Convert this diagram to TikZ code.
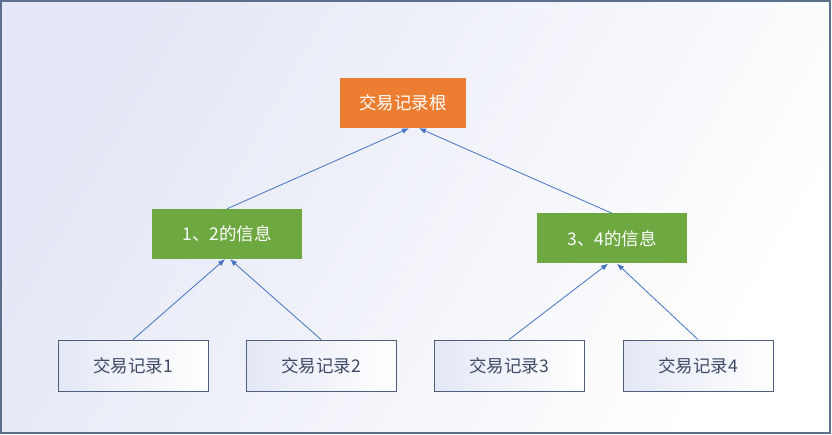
\documentclass[tikz,border=0pt]{standalone}
\usepackage{fontspec}
\usepackage{tikz}
\usepackage{xcolor}
\usetikzlibrary{arrows.meta}
\newfontfamily\cjk{Noto Sans CJK SC}
\definecolor{bgtop}{HTML}{E4E7F5}
\definecolor{frameline}{HTML}{5B6F8E}
\definecolor{rootfill}{HTML}{ED7D31}
\definecolor{midfill}{HTML}{6DA841}
\definecolor{leafline}{HTML}{4E5D7C}
\definecolor{leaftext}{HTML}{3E4A66}
\definecolor{leafleft}{HTML}{E4E8F5}
\definecolor{link}{HTML}{4472C4}
\tikzset{
  box/.style={rectangle, minimum width=150pt, minimum height=50pt, inner sep=0pt,
    font=\cjk\fontsize{17.5}{19}\selectfont},
  rootbox/.style={box, fill=rootfill, text=white, minimum width=126pt},
  midbox/.style={box, fill=midfill, text=white},
  leafbox/.style={box, draw=leafline, line width=0.9pt, left color=leafleft, right color=white, text=leaftext, minimum height=51pt},
  link/.style={draw=link, line width=0.8pt, -{Latex[length=7pt,width=5.5pt]}}
}

\begin{document}
\begin{tikzpicture}[x=1pt,y=-1pt]
\useasboundingbox (0,0) rectangle (832,435);
\shade[top color=bgtop, bottom color=white, shading angle=60] (1,1) rectangle (830,433);
\draw[frameline, line width=1.1pt] (1,1) rectangle (830,433);

\node[rootbox] (root) at (403,103) {交易记录根};
\node[midbox] (m12) at (227,234) {1、2的信息};
\node[midbox] (m34) at (612,238.5) {3、4的信息};
\node[leafbox] (t1) at (133,365.5) {交易记录1};
\node[leafbox] (t2) at (321,365.5) {交易记录2};
\node[leafbox] (t3) at (509,365.5) {交易记录3};
\node[leafbox] (t4) at (698,365.5) {交易记录4};

\draw[link] (m12.north) -- ([xshift=6pt]root.south);
\draw[link] (m34.north) -- ([xshift=16pt]root.south);
\draw[link] (t1.north) -- ([xshift=-2pt]m12.south);
\draw[link] (t2.north) -- ([xshift=3pt]m12.south);
\draw[link] (t3.north) -- ([xshift=-4pt]m34.south);
\draw[link] (t4.north) -- ([xshift=5pt]m34.south);
\end{tikzpicture}
\end{document}
